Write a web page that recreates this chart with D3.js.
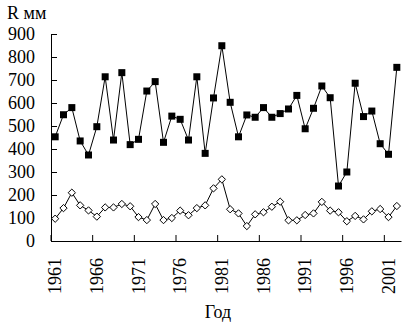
<!DOCTYPE html>
<html>
<head>
<meta charset="utf-8">
<script src="https://cdn.jsdelivr.net/npm/d3@7"></script>
<style>
  html, body { margin: 0; padding: 0; background: #fff; }
  svg { display: block; }
</style>
</head>
<body>
<svg id="chart" width="403" height="327"></svg>
<script>
// Annual precipitation, mm
const years = d3.range(1961, 2003);
const seriesTotal = [453, 549, 580, 435, 374, 497, 714, 439, 732, 419,
                     442, 652, 693, 429, 543, 529, 439, 714, 381, 622,
                     849, 603, 453, 548, 538, 580, 538, 554, 574, 633,
                     488, 577, 674, 623, 239, 300, 686, 541, 565, 423,
                     377, 755];
const seriesLow = [97, 143, 210, 155, 133, 106, 146, 146, 161, 151,
                   104, 91, 161, 91, 100, 132, 112, 143, 155, 229,
                   268, 138, 120, 65, 116, 125, 149, 171, 90, 90,
                   113, 120, 170, 132, 125, 86, 109, 94, 129, 139,
                   104, 152];
const yTicks = [0, 100, 200, 300, 400, 500, 600, 700, 800, 900];
const xLabelYears = [1961, 1966, 1971, 1976, 1981, 1986, 1991, 1996, 2001];

const FONT = "'Liberation Serif', 'Times New Roman', 'DejaVu Serif', serif";

const svg = d3.select("#chart");
const plotLeft = 51, plotRight = 401, plotTop = 34, plotBottom = 241;

const x = d3.scaleBand().domain(years).range([plotLeft, plotRight]).padding(0);
const y = d3.scaleLinear().domain([0, 900]).range([plotBottom, plotTop]);
const bw = x.bandwidth();
const cx = d => x(d) + bw / 2;

// Y axis, ticks pointing into the plot
const yAxis = svg.append("g")
  .attr("transform", `translate(${plotLeft},0)`)
  .call(d3.axisLeft(y).tickValues(yTicks).tickSizeInner(-6).tickSizeOuter(0).tickPadding(16));

// X axis: labels at category centres, ticks on category boundaries
const xAxis = svg.append("g")
  .attr("transform", `translate(0,${plotBottom})`)
  .call(d3.axisBottom(x).tickValues(xLabelYears).tickSize(0).tickSizeOuter(0));
xAxis.selectAll(".tick").append("line")
  .attr("x1", -bw / 2).attr("x2", -bw / 2)
  .attr("y1", 0).attr("y2", -6);
xAxis.selectAll(".tick text")
  .attr("transform", "rotate(-90)")
  .attr("text-anchor", "end")
  .attr("x", -17).attr("y", 0).attr("dy", "0.35em");

[yAxis, xAxis].forEach(g => {
  g.attr("font-family", FONT).attr("font-size", 18);
  g.selectAll("text").style("font-family", FONT).style("font-size", "18px").attr("fill", "#000");
  g.selectAll(".domain, .tick line").attr("stroke", "#000");
});

// Lines
const line = d3.line().x((d, i) => cx(years[i])).y(d => y(d));
svg.append("path").datum(seriesTotal).attr("d", line)
  .attr("fill", "none").attr("stroke", "#000").attr("stroke-width", 1);
svg.append("path").datum(seriesLow).attr("d", line)
  .attr("fill", "none").attr("stroke", "#000").attr("stroke-width", 1);

// Square markers
svg.append("g").selectAll("rect").data(seriesTotal).join("rect")
  .attr("x", (d, i) => cx(years[i]) - 3.5)
  .attr("y", d => y(d) - 3.5)
  .attr("width", 7).attr("height", 7)
  .attr("fill", "#000");

// Diamond markers
const diamond = d3.symbol().type(d3.symbolDiamond2).size(34);
svg.append("g").selectAll("path").data(seriesLow).join("path")
  .attr("transform", (d, i) => `translate(${cx(years[i])},${y(d)})`)
  .attr("d", diamond)
  .attr("fill", "#fff").attr("stroke", "#000").attr("stroke-width", 1);

// Axis titles
svg.append("text").attr("x", 7).attr("y", 19)
  .style("font-family", FONT).style("font-size", "18px").text("R мм");
svg.append("text").attr("x", 218).attr("y", 318).attr("text-anchor", "middle")
  .style("font-family", FONT).style("font-size", "18px").text("Год");
</script>
</body>
</html>
